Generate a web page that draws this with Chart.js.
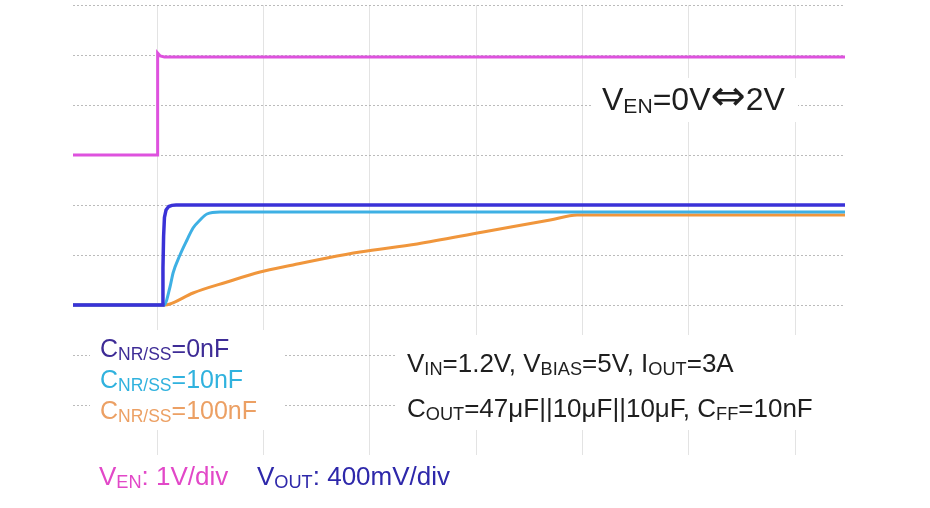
<!DOCTYPE html>
<html>
<head>
<meta charset="utf-8">
<script src="https://cdn.jsdelivr.net/npm/chart.js@4"></script>
<style>
  html, body { margin: 0; padding: 0; background: #fff; }
  #wrap { width: 930px; height: 508px; }
</style>
</head>
<body>
<div id="wrap"><canvas id="scope" width="930" height="508"></canvas></div>
<script>
// time axis in scope divisions (0 = EN edge), voltages in volts
const xTicks = [0, 1, 2, 3, 4, 5, 6];
const yTicks = [0, 1, 2, 3, 4, 5, 6, 7, 8, 9];

const tEn = [-0.79, 0.005, 0.006, 0.03, 0.07, 6.47];
const vEn = [0, 0, 2.04, 1.98, 1.96, 1.96];

const tOut0 = [-0.79, 0.05, 0.056, 0.062, 0.07, 0.085, 0.11, 0.14, 0.18, 6.47];
const vOut0 = [0, 0, 0.3, 0.55, 0.7, 0.76, 0.788, 0.797, 0.8, 0.8];

const tOut10 = [-0.79, 0.066, 0.122, 0.151, 0.216, 0.282, 0.339, 0.405, 0.47, 0.593, 6.47];
const vOut10 = [0, 0, 0.144, 0.256, 0.4, 0.52, 0.616, 0.68, 0.728, 0.744, 0.744];

const tOut100 = [-0.79, 0.075, 0.122, 0.339, 0.659, 0.969, 1.279, 1.599, 1.909, 2.446, 3.067, 3.697, 3.951, 6.47];
const vOut100 = [0, 0, 0.008, 0.096, 0.184, 0.264, 0.32, 0.376, 0.424, 0.488, 0.584, 0.68, 0.72, 0.72];

// channel ground offsets (div) and scales (V/div)
const enOffset = 6, enScale = 1;
const outOffset = 3, outScale = 0.4;

function trace(ts, vs, offset, scale) {
  return ts.map((t, i) => ({ x: t, y: offset + vs[i] / scale }));
}

const FAMILY = '"Liberation Sans", Arial, "DejaVu Sans", sans-serif';

// draws text with subscript pieces: parts = [[text, isSub, customFont?], ...]
function drawRich(ctx, x, y, parts, size, color, subRatio) {
  const r = subRatio || 0.7;
  ctx.fillStyle = color;
  ctx.textBaseline = 'alphabetic';
  ctx.textAlign = 'left';
  let cx = x;
  parts.forEach(([txt, sub, font]) => {
    const fs = sub ? size * r : size;
    ctx.font = font || (fs + 'px ' + FAMILY);
    ctx.fillText(txt, cx, sub ? y + size * 0.1 : y);
    cx += ctx.measureText(txt).width;
  });
}

const notes = {
  id: 'notes',
  beforeDatasetsDraw(chart) {
    const ctx = chart.ctx;
    ctx.save();
    ctx.fillStyle = '#fff';
    ctx.fillRect(90, 330, 195, 100);
    ctx.fillRect(395, 335, 460, 95);
    ctx.fillRect(592, 78, 206, 44);
    ctx.restore();
  },
  afterDraw(chart) {
    const ctx = chart.ctx;
    ctx.save();
    drawRich(ctx, 602, 110, [['V', 0], ['EN', 1], ['=0V', 0], ['\u21D4', 0, '42px "DejaVu Sans", sans-serif'], ['2V', 0]], 32, '#1e1e1e', 0.66);

    drawRich(ctx, 100, 357, [['C', 0], ['NR/SS', 1], ['=0nF', 0]], 25, 'rgb(62, 44, 150)');
    drawRich(ctx, 100, 388, [['C', 0], ['NR/SS', 1], ['=10nF', 0]], 25, 'rgb(48, 178, 222)');
    drawRich(ctx, 100, 419, [['C', 0], ['NR/SS', 1], ['=100nF', 0]], 25, 'rgb(236, 160, 100)');

    drawRich(ctx, 407, 372, [['V', 0], ['IN', 1], ['=1.2V, V', 0], ['BIAS', 1], ['=5V, I', 0], ['OUT', 1], ['=3A', 0]], 26, '#1e1e1e');
    drawRich(ctx, 407, 417, [['C', 0], ['OUT', 1], ['=47\u03BCF||10\u03BCF||10\u03BCF, C', 0], ['FF', 1], ['=10nF', 0]], 26, '#1e1e1e');

    drawRich(ctx, 99, 485, [['V', 0], ['EN', 1], [': 1V/div', 0]], 26, 'rgb(226, 72, 200)');
    drawRich(ctx, 257, 485, [['V', 0], ['OUT', 1], [': 400mV/div', 0]], 26, 'rgb(46, 40, 170)');
    ctx.restore();
  }
};

new Chart(document.getElementById('scope'), {
  type: 'line',
  data: {
    datasets: [
      { label: 'CNR/SS=0nF', data: trace(tOut0, vOut0, outOffset, outScale), borderColor: 'rgb(58, 50, 215)', borderWidth: 3.5 },
      { label: 'CNR/SS=10nF', data: trace(tOut10, vOut10, outOffset, outScale), borderColor: 'rgb(62, 176, 228)', borderWidth: 3, cubicInterpolationMode: 'monotone' },
      { label: 'CNR/SS=100nF', data: trace(tOut100, vOut100, outOffset, outScale), borderColor: 'rgb(240, 150, 60)', borderWidth: 3, cubicInterpolationMode: 'monotone' },
      { label: 'VEN', data: trace(tEn, vEn, enOffset, enScale), borderColor: 'rgb(222, 82, 222)', borderWidth: 3 }
    ]
  },
  options: {
    responsive: false,
    animation: false,
    elements: { point: { radius: 0 }, line: { fill: false } },
    layout: { padding: { left: 73, right: 85, top: 5, bottom: 53 } },
    plugins: { legend: { display: false }, tooltip: { enabled: false } },
    scales: {
      x: {
        type: 'linear', min: -0.79, max: 6.47,
        afterBuildTicks: s => { s.ticks = xTicks.map(v => ({ value: v })); },
        afterFit: s => { s.height = 0; },
        ticks: { display: false },
        grid: { color: 'rgba(200, 200, 200, 0.5)', lineWidth: 1, drawTicks: false },
        border: { display: false }
      },
      y: {
        type: 'linear', min: 0, max: 9,
        afterBuildTicks: s => { s.ticks = yTicks.map(v => ({ value: v })); },
        afterFit: s => { s.width = 0; },
        ticks: { display: false },
        grid: {
          color: ctx => ctx.tick && ctx.tick.value === 0 ? 'rgba(0,0,0,0)' : 'rgba(170, 170, 170, 0.8)',
          lineWidth: 1, drawTicks: false
        },
        border: { display: false, dash: [2, 2] }
      }
    }
  },
  plugins: [notes]
});
</script>
</body>
</html>
